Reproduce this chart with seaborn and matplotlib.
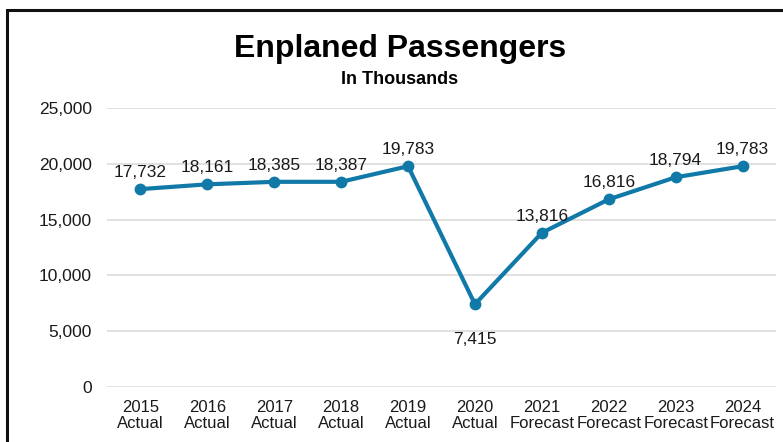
import matplotlib
matplotlib.use('Agg')
import matplotlib.pyplot as plt
import seaborn as sns
import pandas as pd
from matplotlib.patches import Rectangle
from matplotlib.ticker import FuncFormatter

years = ['2015', '2016', '2017', '2018', '2019', '2020', '2021', '2022', '2023', '2024']
status = ['Actual', 'Actual', 'Actual', 'Actual', 'Actual', 'Actual',
          'Forecast', 'Forecast', 'Forecast', 'Forecast']
passengers = [17732, 18161, 18385, 18387, 19783, 7415, 13816, 16816, 18794, 19783]
label_side = ['above', 'above', 'above', 'above', 'above', 'below',
              'above', 'above', 'above', 'above']
yticks = [0, 5000, 10000, 15000, 20000, 25000]

title = 'Enplaned Passengers'
subtitle = 'In Thousands'
LINE = '#1179a8'

sns.set_theme(style='white')
plt.rcParams['font.family'] = ['Liberation Sans', 'DejaVu Sans']

W, H = 783, 442
fig = plt.figure(figsize=(W / 100, H / 100), dpi=100)
ax = fig.add_axes([107 / W, 1 - 387 / H, (776 - 107) / W, (387 - 108) / H])

df = pd.DataFrame({'label': [f'{y}\n{s}' for y, s in zip(years, status)],
                   'value': passengers})
sns.lineplot(data=df, x='label', y='value', sort=False, marker='o',
             color=LINE, linewidth=3, markersize=8.5, markeredgewidth=0, ax=ax)

ax.set_xlim(-0.5, len(years) - 0.5)
ax.set_ylim(0, 25000)
ax.set_yticks(yticks)
ax.yaxis.set_major_formatter(FuncFormatter(lambda v, p: f'{int(v):,}'))
ax.grid(axis='y', color='#d9d9d9', linewidth=1.1)
ax.grid(axis='x', visible=False)
ax.set_axisbelow(True)
for s in ax.spines.values():
    s.set_visible(False)
ax.set_xlabel('')
ax.set_ylabel('')
ax.tick_params(axis='y', length=0, pad=11, labelsize=12.5, labelcolor='#1a1a1a')
ax.tick_params(axis='x', length=0, pad=9, labelsize=12, labelcolor='#1a1a1a')
for t in ax.get_xticklabels():
    t.set_linespacing(1.15)

for i, (v, side) in enumerate(zip(passengers, label_side)):
    if side == 'above':
        ax.annotate(f'{v:,}', (i, v), xytext=(0, 6.5), textcoords='offset points',
                    ha='center', va='bottom', fontsize=12.5, color='#1a1a1a')
    else:
        ax.annotate(f'{v:,}', (i, v), xytext=(0, -20), textcoords='offset points',
                    ha='center', va='top', fontsize=12.5, color='#1a1a1a')

fig.text(400 / W, 1 - 57 / H, title, ha='center', va='baseline',
         fontsize=23, fontweight='bold', color='black')
fig.text(400 / W, 1 - 83.5 / H, subtitle, ha='center', va='baseline',
         fontsize=13, fontweight='bold', color='black')

fig.add_artist(Rectangle((6.5 / W, -0.1), 1.2, 1.1 - 10.5 / H,
                         transform=fig.transFigure, fill=False,
                         linewidth=2.2, edgecolor='#111111', clip_on=False))

fig.savefig('out.png', dpi=100)
